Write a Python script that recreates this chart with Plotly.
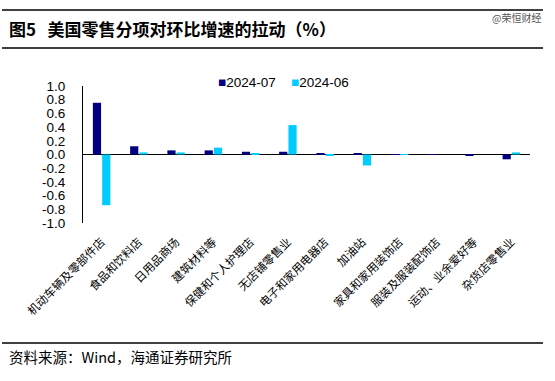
import plotly.graph_objects as go

categories = ["机动车辆及零部件店", "食品和饮料店", "日用品商场", "建筑材料等",
              "保健和个人护理店", "无店铺零售业", "电子和家用电器店", "加油站",
              "家具和家用装饰店", "服装及服装配饰店", "运动、业余爱好等", "杂货店零售业"]
jul_2024 = [0.755, 0.12, 0.06, 0.06, 0.04, 0.04, 0.02, 0.01, 0.005, 0.003, -0.01, -0.07]
jun_2024 = [-0.74, 0.03, 0.03, 0.10, 0.02, 0.43, -0.02, -0.16, -0.003, 0.0, 0.0, 0.03]
y_ticks = [1.0, 0.8, 0.6, 0.4, 0.2, 0.0, -0.2, -0.4, -0.6, -0.8, -1.0]
series_names = ["2024-07", "2024-06"]
series_colors = ["#000080", "#00CCFF"]

W, H = 555, 381
L, R, T, B = 83, 530, 86, 223
def xp(px):
    return (px - L) / (R - L)
def yp(py):
    return (B - py) / (B - T)

fig = go.Figure()
for name, vals, col in zip(series_names, [jul_2024, jun_2024], series_colors):
    fig.add_bar(x=categories, y=vals, name=name, marker_color=col, marker_line_width=0,
                showlegend=False)

cjk = "Noto Sans CJK SC"
fig.update_layout(
    width=W, height=H,
    margin=dict(l=L, r=W - R, t=T, b=H - B, pad=0),
    paper_bgcolor="white", plot_bgcolor="white",
    barmode="group", bargap=0.5, bargroupgap=0.12,
    font=dict(family="Liberation Sans, Arial", color="black"),
    xaxis=dict(showline=False, ticks="", tickangle=-45, ticklabelstandoff=9,
               tickfont=dict(size=11.5, family=cjk), showgrid=False, zeroline=False),
    yaxis=dict(range=[-1.0, 1.0], tickvals=y_ticks, ticktext=[f"{v:.1f}" for v in y_ticks],
               showline=True, linecolor="black", linewidth=1, ticks="",
               showgrid=False, zeroline=True, zerolinecolor="black", zerolinewidth=1,
               tickfont=dict(size=13.5, family="Liberation Sans, Arial"), ticklabelstandoff=14),
)

shapes = []
for py in (10, 48, 343):
    shapes.append(dict(type="line", xref="paper", yref="paper",
                       x0=xp(2), x1=xp(543), y0=yp(py), y1=yp(py),
                       line=dict(color="black", width=1.5)))
fig.update_layout(shapes=shapes)

# legend (compact, like the reference)
for lx, name, col in zip([216, 289], series_names, series_colors):
    fig.add_annotation(text=f"<span style='color:{col}'>■</span>{name}",
                       xref="paper", yref="paper", x=xp(lx), y=yp(82),
                       xanchor="left", yanchor="middle", showarrow=False,
                       font=dict(size=13.5, family="Liberation Sans, Arial", color="black"))

fig.add_annotation(text="<b>图5   美国零售分项对环比增速的拉动（%）</b>", xref="paper", yref="paper",
                   x=xp(7), y=yp(29), xanchor="left", yanchor="middle", showarrow=False,
                   font=dict(size=17, family=cjk, color="black"))
fig.add_annotation(text="@荣恒财经", xref="paper", yref="paper",
                   x=xp(543), y=yp(18), xanchor="right", yanchor="middle", showarrow=False,
                   font=dict(size=10, family=cjk, color="#555555"))
fig.add_annotation(text="资料来源：Wind，海通证券研究所", xref="paper", yref="paper",
                   x=xp(7), y=yp(356), xanchor="left", yanchor="middle", showarrow=False,
                   font=dict(size=14.5, family=cjk, color="black"))

fig.write_html("out.html", config={"displayModeBar": False},
               post_script="document.body.style.margin='0';")
